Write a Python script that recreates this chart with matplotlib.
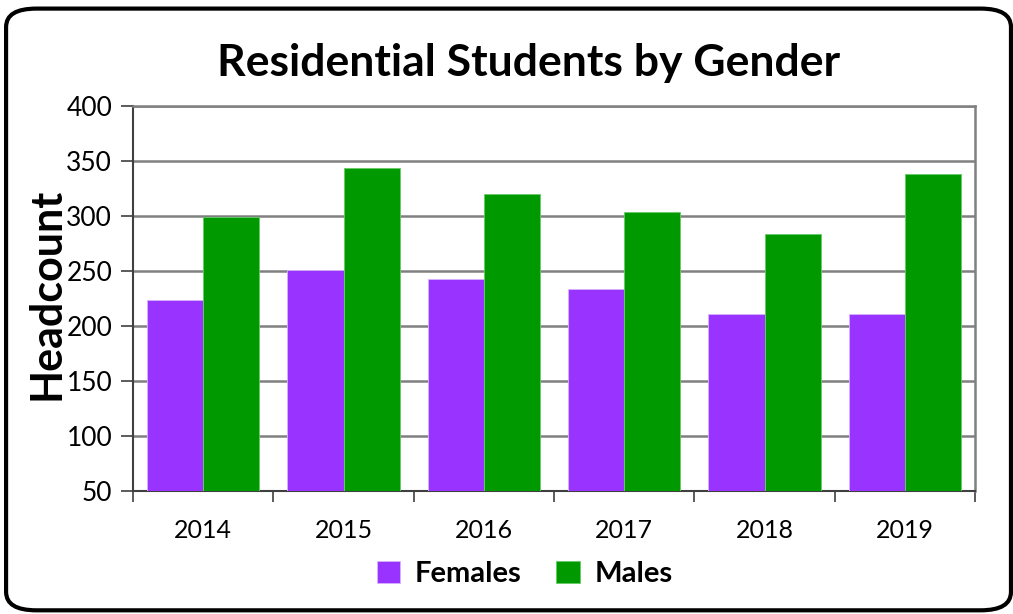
import numpy as np
import matplotlib.pyplot as plt
from matplotlib.patches import FancyBboxPatch

years = ['2014', '2015', '2016', '2017', '2018', '2019']
females = [224, 251, 243, 234, 211, 211]
males = [299, 344, 320, 304, 284, 338]

plt.rcParams['font.family'] = ['Lato', 'DejaVu Sans']

fig = plt.figure(figsize=(10.13, 6.14), dpi=100)
ax = fig.add_axes([133/1013, 1-491/614, (975-133)/1013, (491-106)/614])

x = np.arange(len(years))
w = 0.4
ax.bar(x - w/2, females, w, color='#9933ff', edgecolor='#d9b3ff', linewidth=0.6, label='Females', zorder=3)
ax.bar(x + w/2, males, w, color='#009900', edgecolor='#66cc66', linewidth=0.6, label='Males', zorder=3)

ax.set_ylim(50, 400)
ax.set_xlim(-0.5, len(years) - 0.5)
ax.set_yticks(np.arange(50, 401, 50))
ax.tick_params(axis='y', labelsize=19, length=9, width=1.2, color='#404040', pad=6)
ax.set_xticks(x)
ax.set_xticklabels(years)
ax.tick_params(axis='x', labelsize=18, length=0, pad=20)
ax.set_xticks(np.arange(-0.5, len(years)), minor=True)
ax.tick_params(axis='x', which='minor', length=8, width=1.2, color='#404040')
ax.yaxis.grid(True, color='#808080', linewidth=1.8, zorder=0)
ax.set_axisbelow(True)

for s in ['top', 'right']:
    ax.spines[s].set_color('#808080')
    ax.spines[s].set_linewidth(1.8)
ax.spines['left'].set_color('#404040')
ax.spines['left'].set_linewidth(1.5)
ax.spines['bottom'].set_color('#404040')
ax.spines['bottom'].set_linewidth(1.5)

fig.text(0.522, 0.898, 'Residential Students by Gender', ha='center', va='center',
         fontsize=32, fontweight='bold')
fig.text(0.046, 0.522, 'Headcount', ha='center', va='center', rotation=90,
         fontsize=31, fontweight='bold')

ax.legend(loc='center', bbox_to_anchor=(0.465, -0.215), ncol=2, frameon=False,
          prop={'size': 21, 'weight': 'bold'}, handlelength=0.8, handleheight=0.8,
          handletextpad=0.5, columnspacing=1.2)

frame = FancyBboxPatch((0.006, 0.006), 0.992, 0.98, boxstyle='round,pad=0,rounding_size=0.03',
                       transform=fig.transFigure, fill=False, edgecolor='black', linewidth=3)
fig.patches.append(frame)

plt.savefig('out.png', dpi=100)
